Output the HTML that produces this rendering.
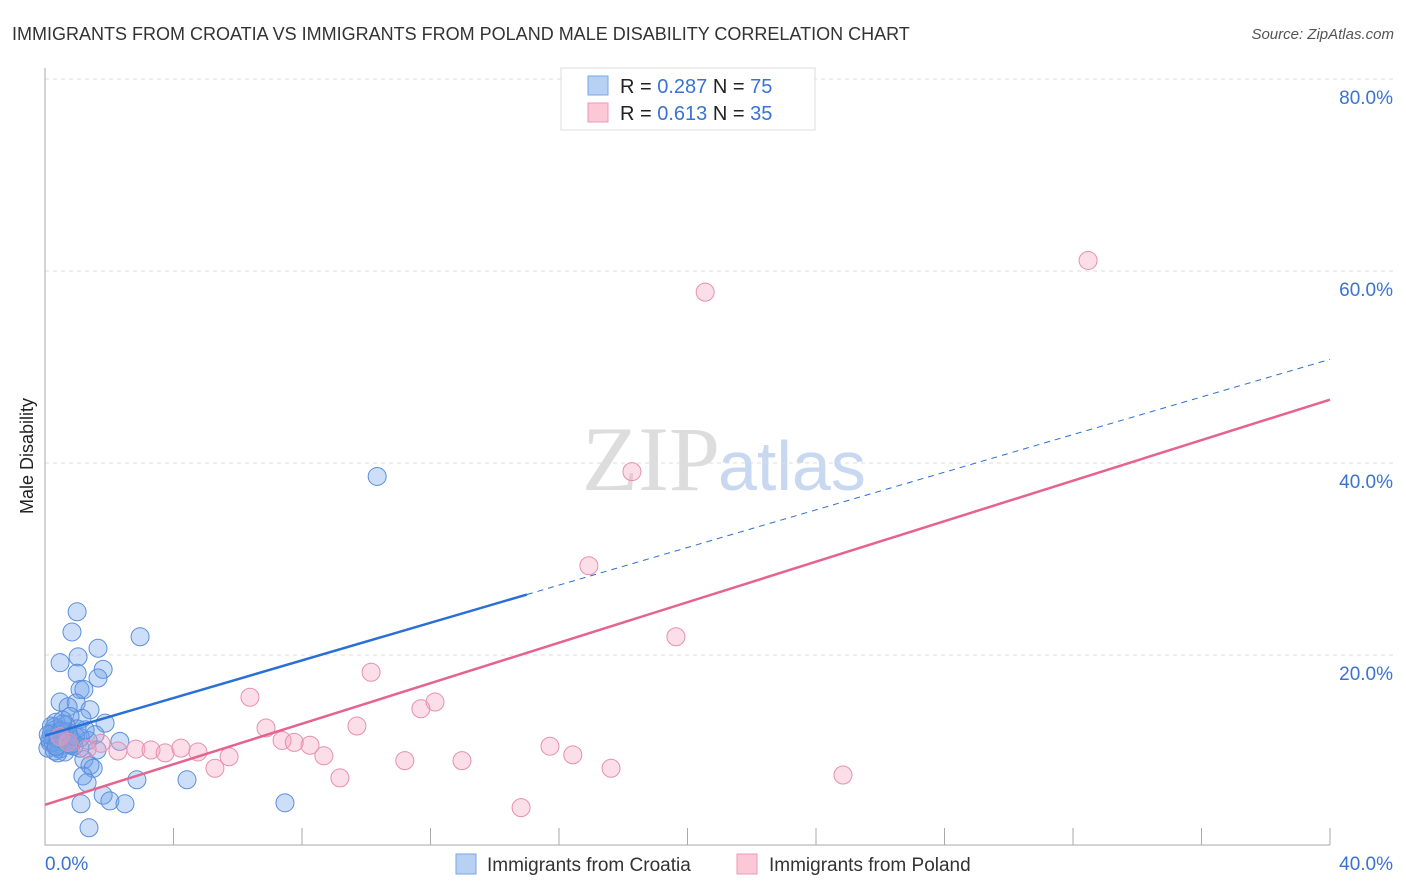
<!DOCTYPE html>
<html><head><meta charset="utf-8"><style>
body{margin:0;background:#fff;font-family:"Liberation Sans",sans-serif}
svg{display:block}
</style></head><body>
<svg width="1406" height="892" xmlns="http://www.w3.org/2000/svg">
<text x="12" y="40" font-size="18" fill="#333">IMMIGRANTS FROM CROATIA VS IMMIGRANTS FROM POLAND MALE DISABILITY CORRELATION CHART</text>
<text x="1394" y="39" font-size="15" fill="#555" font-style="italic" text-anchor="end">Source: ZipAtlas.com</text>
<text x="33" y="456" font-size="18" fill="#222" text-anchor="middle" transform="rotate(-90 33 456)">Male Disability</text>
<text x="720" y="490" font-size="92" fill="#ddd" text-anchor="end" font-family="Liberation Serif">ZIP</text>
<text x="718" y="490" font-size="70" fill="#c8d8f0">atlas</text>
<g id="grid"></g>
<g id="marks"></g>
<rect x="561" y="68" width="254" height="62" fill="#fff" stroke="#ddd"/>
<rect x="588" y="76" width="20" height="19" fill="#b7d1f5" stroke="#7aa6e6"/>
<rect x="588" y="103" width="20" height="19" fill="#fcc7d7" stroke="#ee9ab5"/>
<text x="620" y="93" font-size="20" fill="#222">R = <tspan fill="#3a72d4">0.287</tspan>   N = <tspan fill="#3a72d4">75</tspan></text>
<text x="620" y="120" font-size="20" fill="#222">R =  <tspan fill="#3a72d4">0.613</tspan>   N = <tspan fill="#3a72d4">35</tspan></text>
<rect x="456" y="854" width="20" height="20" fill="#b7d1f5" stroke="#7aa6e6"/>
<text x="487" y="871" font-size="19" fill="#333">Immigrants from Croatia</text>
<rect x="737" y="854" width="20" height="20" fill="#fcc7d7" stroke="#ee9ab5"/>
<text x="769" y="871" font-size="19" fill="#333">Immigrants from Poland</text>
</svg>
<script>
const yTicks=[20,40,60,80];
const yTickLabels=["20.0%","40.0%","60.0%","80.0%"];
const xTickLabels=["0.0%","40.0%"];
const croatiaX=[10.34,1.0,0.84,2.96,1.65,0.47,1.03,1.81,1.0,1.65,1.09,1.21,0.47,0.97,0.72,1.4,1.15,0.78,0.34,1.87,0.65,0.31,1.56,0.4,0.87,0.16,2.33,0.53,0.09,0.25,0.62,1.34,1.62,0.81,0.62,1.21,0.4,1.09,1.4,1.5,1.18,1.31,2.86,4.42,1.81,2.02,2.49,1.12,1.37,7.47,0.2,0.3,0.5,0.7,0.9,0.15,0.35,0.55,0.75,0.45,0.25,1.0,0.6,0.2,0.4,0.8,1.1,0.3,0.5,0.1,0.7,0.95,1.25,0.55,0.35];
const croatiaY=[38.6,24.5,22.4,21.9,20.7,19.2,19.8,18.5,18.1,17.6,16.4,16.4,15.1,15.0,14.6,14.3,13.4,13.6,13.0,12.9,12.7,12.2,11.7,11.4,11.1,10.9,11.0,10.6,10.3,11.5,11.5,11.1,10.1,10.6,9.9,9.1,9.8,10.3,8.5,8.2,7.4,6.7,7.0,7.0,5.4,4.8,4.5,4.5,2.0,4.6,11.8,12.5,11.0,12.0,10.5,11.2,10.4,12.8,11.6,10.2,10.9,12.3,11.9,12.6,11.3,10.7,11.4,10.0,12.1,11.7,10.8,11.5,12.2,13.2,10.5];
const polandX=[32.47,20.55,18.27,16.93,19.64,10.15,6.38,12.14,11.7,9.71,6.88,7.38,7.76,8.25,8.68,15.72,16.43,5.73,5.29,11.2,12.98,17.62,24.84,9.18,14.82,2.27,2.83,3.3,3.74,4.23,4.76,1.74,1.31,0.72,0.47];
const polandY=[61.1,57.8,39.1,29.3,21.9,18.2,15.6,15.1,14.4,12.6,12.4,11.1,10.9,10.6,9.5,10.5,9.6,9.4,8.2,9.0,9.0,8.2,7.5,7.2,4.1,10.0,10.2,10.1,9.8,10.3,9.9,10.8,10.2,10.9,11.5];
const croatiaTrend=[11.6,0.98];
const polandTrend=[4.4,1.055];
const NS="http://www.w3.org/2000/svg";
const sx=v=>45+v/40*1285, sy=v=>847-v/20*192;
function mk(t,a,p){const e=document.createElementNS(NS,t);for(const k in a)e.setAttribute(k,a[k]);p.appendChild(e);return e;}
const grid=document.getElementById('grid'),marks=document.getElementById('marks');
yTicks.forEach((t,i)=>{
 const l=mk('line',{x1:45,x2:1394,y1:sy(t),y2:sy(t),stroke:'#ddd','stroke-dasharray':'4,4'},grid);
 
 
 const tx=mk('text',{x:1393,y:sy(t)+25,'font-size':19,fill:'#3a72d4','text-anchor':'end'},grid);tx.textContent=yTickLabels[i];
 
 
});
const ax=mk('path',{d:'M45 68V845H1330',stroke:'#aaa',fill:'none'},grid);


for(let i=0;i<=10;i++){const tk=mk('line',{x1:sx(i*4),x2:sx(i*4),y1:828,y2:845,stroke:'#aaa'},grid);
 
 }
const xl0=mk('text',{x:45,y:870,'font-size':19,fill:'#3a72d4'},grid);xl0.textContent=xTickLabels[0];


const xl1=mk('text',{x:1393,y:870,'font-size':19,fill:'#3a72d4','text-anchor':'end'},grid);xl1.textContent=xTickLabels[1];


croatiaX.forEach((x,i)=>{const c=mk('circle',{cx:sx(x),cy:sy(croatiaY[i]),r:9,fill:'rgba(110,160,235,0.35)',stroke:'#5b8fdc','stroke-width':1},marks);
 
 });
polandX.forEach((x,i)=>{const c=mk('circle',{cx:sx(x),cy:sy(polandY[i]),r:9,fill:'rgba(245,160,190,0.35)',stroke:'#e88fae','stroke-width':1},marks);
 
 });
const f=(t,x)=>t[0]+t[1]*x;
const b1=mk('line',{x1:sx(0),y1:sy(f(croatiaTrend,0)),x2:sx(15),y2:sy(f(croatiaTrend,15)),stroke:'#2a6fd6','stroke-width':2.5},marks);


const b2=mk('line',{x1:sx(15),y1:sy(f(croatiaTrend,15)),x2:sx(40),y2:sy(f(croatiaTrend,40)),stroke:'#2a6fd6','stroke-width':1,'stroke-dasharray':'6,5'},marks);


const p1=mk('line',{x1:sx(0),y1:sy(f(polandTrend,0)),x2:sx(40),y2:sy(f(polandTrend,40)),stroke:'#e5648f','stroke-width':2.5},marks);


</script>
</body></html>
